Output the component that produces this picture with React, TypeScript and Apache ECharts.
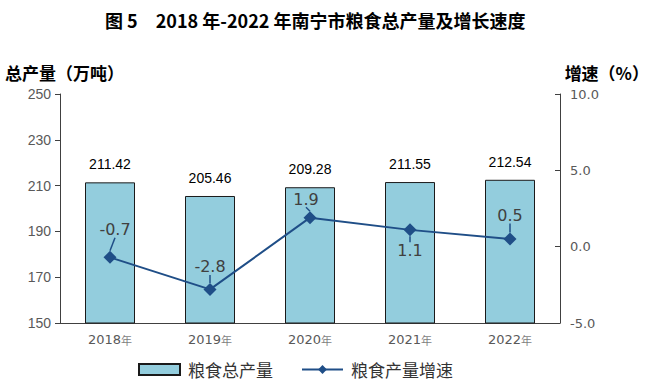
import React, { useEffect, useRef } from "react";
import * as echarts from "echarts";

const years = ["2018", "2019", "2020", "2021", "2022"];
const totalOutput = [211.42, 205.46, 209.28, 211.55, 212.54];
const growthRate = [-0.7, -2.8, 1.9, 1.1, 0.5];
const leftTicks = { min: 150, max: 250, interval: 20 };
const rightTicks = { min: -5, max: 10, interval: 5 };
const growthLabelPos = ["top", "top", "top", "bottom", "top"];
const growthLabelDx = [5, 0, -4, 0, 0];
const growthLabelDy = [-9, -4, 0, 2, -5];

export default function App() {
  const ref = useRef<HTMLDivElement>(null);
  useEffect(() => {
    document.body.style.margin = "0";
    const chart = echarts.init(ref.current!, null, { renderer: "svg" });
    const cjk = "'Noto Sans CJK SC', sans-serif";
    chart.setOption({
      animation: false,
      backgroundColor: "#ffffff",
      graphic: [
        {
          type: "text",
          x: 105,
          y: 20,
          style: {
            text: "图 5　2018 年-2022 年南宁市粮食总产量及增长速度",
            fontFamily: cjk,
            fontSize: 18,
            fontWeight: "bold",
            fill: "#000",
            verticalAlign: "middle",
          },
        },
        {
          type: "text",
          x: 5,
          y: 72,
          style: {
            text: "总产量（万吨）",
            fontFamily: cjk,
            fontSize: 17,
            fontWeight: "bold",
            fill: "#000",
            verticalAlign: "middle",
          },
        },
        {
          type: "text",
          x: 649,
          y: 72,
          style: {
            text: "增速（%）",
            fontFamily: cjk,
            fontSize: 17,
            fontWeight: "bold",
            fill: "#000",
            align: "right",
            verticalAlign: "middle",
          },
        },
      ],
      legend: {
        top: 356,
        left: 133,
        itemWidth: 41,
        itemHeight: 11,
        itemGap: 28,
        textStyle: { fontFamily: cjk, fontSize: 17, color: "#333", padding: [0, 0, 0, 3] },
        data: [
          { name: "粮食总产量", icon: "rect" },
          { name: "粮食产量增速" },
        ],
      },
      grid: { left: 60, right: 100, top: 94, bottom: 60 },
      xAxis: {
        type: "category",
        data: years,
        axisLine: { onZero: false, lineStyle: { color: "#404040", width: 1 } },
        axisTick: { show: false },
        axisLabel: {
          margin: 10,
          formatter: (v: string) => `{n|${v}}{u|年}`,
          rich: {
            n: { fontFamily: "DejaVu Sans", fontSize: 13, color: "#595959" },
            u: { fontFamily: cjk, fontSize: 11, color: "#7f7f7f" },
          },
        },
      },
      yAxis: [
        {
          type: "value",
          min: leftTicks.min,
          max: leftTicks.max,
          interval: leftTicks.interval,
          splitLine: { show: false },
          axisLine: { show: true, lineStyle: { color: "#404040" } },
          axisTick: { show: true, inside: false, length: 5, lineStyle: { color: "#404040" } },
          axisLabel: { fontFamily: "Liberation Sans", fontSize: 14, color: "#595959", margin: 9 },
        },
        {
          type: "value",
          min: rightTicks.min,
          max: rightTicks.max,
          interval: rightTicks.interval,
          position: "right",
          splitLine: { show: false },
          axisLine: { show: true, onZero: false, lineStyle: { color: "#404040" } },
          axisTick: { show: true, inside: true, length: 5, lineStyle: { color: "#404040" } },
          axisLabel: {
            fontFamily: "DejaVu Sans",
            fontSize: 13,
            color: "#595959",
            margin: 10,
            formatter: (v: number) => v.toFixed(1),
          },
        },
      ],
      series: [
        {
          name: "粮食总产量",
          type: "bar",
          data: totalOutput,
          barWidth: "50%",
          itemStyle: { color: "#93CDDD", borderColor: "#1a1a1a", borderWidth: 1 },
          label: {
            show: true,
            position: "top",
            distance: 11,
            fontFamily: "Liberation Sans",
            fontSize: 14,
            color: "#000",
            formatter: (p: any) => p.value.toFixed(2),
          },
        },
        {
          name: "粮食产量增速",
          type: "line",
          yAxisIndex: 1,
          data: growthRate.map((v, i) => ({
            value: v,
            label: { position: growthLabelPos[i] },
          })),
          symbol: "diamond",
          symbolSize: 13,
          lineStyle: { color: "#1F4E87", width: 2 },
          itemStyle: { color: "#1F4E87" },
          label: {
            show: true,
            position: "top",
            distance: 4,
            fontFamily: "DejaVu Sans",
            fontSize: 16,
            color: "#404040",
            formatter: (p: any) => p.value.toFixed(1),
          },
          labelLine: { show: true, lineStyle: { color: "#1F4E87", width: 1.5 } },
          labelLayout: (params: any) => ({
            dx: growthLabelDx[params.dataIndex],
            dy: growthLabelDy[params.dataIndex],
          }),
        },
      ],
    });
    return () => chart.dispose();
  }, []);
  return <div ref={ref} style={{ width: 660, height: 383 }} />;
}
